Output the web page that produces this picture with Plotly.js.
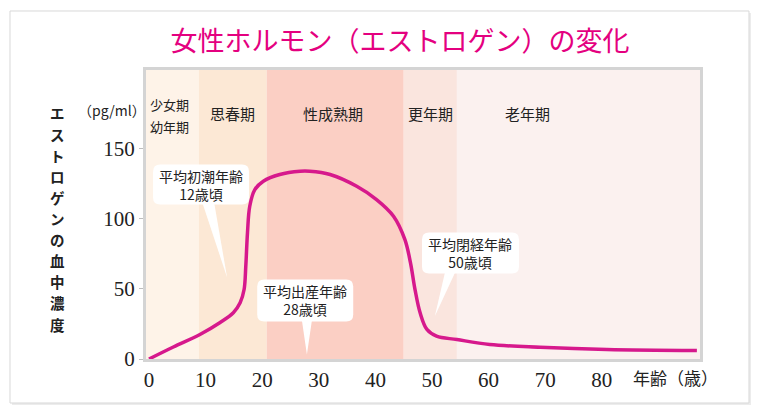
<!DOCTYPE html>
<html>
<head>
<meta charset="utf-8">
<script src="https://cdn.plot.ly/plotly-3.0.1.min.js"></script>
<style>
  html, body { margin: 0; padding: 0; background: #ffffff; }
  #chart { width: 761px; height: 419px; }
</style>
</head>
<body>
<div id="chart"></div>
<script>
// ---- data ----
var ages      = [0, 4.3, 9.0, 12.5, 14.9, 16.1, 16.8, 17.1, 17.4, 17.8, 18.7, 20.2, 23.1, 26.7, 28.4, 32.0, 36.7, 40.2, 43.2, 45.2, 46.2, 47.0, 47.9, 49.1, 50.8, 54.4, 60.2, 69.1, 80.9, 96.8];
var estrogen  = [0, 8.6, 17.5, 25.9, 33, 40.1, 49.6, 66.3, 90.1, 109.1, 121, 127, 131.8, 134.1, 134.1, 131.8, 123.4, 113.9, 102, 85.4, 68.7, 49.6, 33, 21.1, 16.3, 13.9, 10.4, 8.4, 6.8, 6.1];

var stageNames  = ["少女期\n幼年期", "思春期", "性成熟期", "更年期", "老年期"];
var stageStarts = [-0.53, 8.8, 20.8, 45.0, 54.4];
var stageEnds   = [8.8, 20.8, 45.0, 54.4, 97.35];
var stageLabelX = [3.7, 14.7, 32.5, 49.7, 66.8];
var stageColors = ["#fef3e8", "#fce8d5", "#fbcfc4", "#fae5de", "#fbf1ef"];

var xTicks = [0, 10, 20, 30, 40, 50, 60, 70, 80];
var yTicks = [0, 50, 100, 150];

var calloutTexts = ["平均初潮年齢<br>12歳頃", "平均出産年齢<br>28歳頃", "平均閉経年齢<br>50歳頃"];
var yTitleText = "エストロゲンの血中濃度";

// ---- layout helpers ----
var XR = [-0.53, 97.35], YR = [0, 206.4];
var PW = 554, PH = 289;
var xpp = (XR[1] - XR[0]) / PW;  // data per px
var ypp = (YR[1] - YR[0]) / PH;

function roundRect(cx, cy, wpx, hpx, rpx) {
  var x0 = cx - wpx / 2 * xpp, x1 = cx + wpx / 2 * xpp;
  var y0 = cy - hpx / 2 * ypp, y1 = cy + hpx / 2 * ypp;
  var rx = rpx * xpp, ry = rpx * ypp;
  return "M" + (x0 + rx) + "," + y1 +
    " L" + (x1 - rx) + "," + y1 +
    " Q" + x1 + "," + y1 + " " + x1 + "," + (y1 - ry) +
    " L" + x1 + "," + (y0 + ry) +
    " Q" + x1 + "," + y0 + " " + (x1 - rx) + "," + y0 +
    " L" + (x0 + rx) + "," + y0 +
    " Q" + x0 + "," + y0 + " " + x0 + "," + (y0 + ry) +
    " L" + x0 + "," + (y1 - ry) +
    " Q" + x0 + "," + y1 + " " + (x0 + rx) + "," + y1 + " Z";
}

// callout geometry (box centre in data units, size in px, pointer)
var callouts = [
  {cx: 9.2,  cy: 124.6, w: 96, h: 40, base: [9.4, 11.5, 112], tip: [13.8, 58.2]},
  {cx: 27.6, cy: 41.8,  w: 96, h: 42, base: [27.0, 28.8, 28], tip: [27.9, 3.2]},
  {cx: 56.8, cy: 75.7,  w: 97, h: 41, base: [52.3, 54.1, 62], tip: [50.5, 30.6]}
];

var shapes = [];
// card shadow and card
shapes.push({type: "rect", xref: "paper", yref: "paper", x0: -0.2419, x1: 1.0921, y0: -0.1592, y1: 1.197,
  fillcolor: "#ececec", line: {width: 0}, layer: "below"});
shapes.push({type: "rect", xref: "paper", yref: "paper", x0: -0.2455, x1: 1.0884, y0: -0.1522, y1: 1.2042,
  fillcolor: "#ffffff", line: {color: "#d9d9d9", width: 1}, layer: "below"});
// stage bands
for (var i = 0; i < stageNames.length; i++) {
  shapes.push({type: "rect", xref: "x", yref: "paper", x0: stageStarts[i], x1: stageEnds[i], y0: 0, y1: 1,
    fillcolor: stageColors[i], line: {width: 0}, layer: "below"});
}
// callout boxes
callouts.forEach(function (c) {
  shapes.push({type: "path", xref: "x", yref: "y", path: roundRect(c.cx, c.cy, c.w, c.h, 7),
    fillcolor: "#ffffff", line: {width: 0}, layer: "above"});
  shapes.push({type: "path", xref: "x", yref: "y",
    path: "M" + c.base[0] + "," + c.base[2] + " L" + c.tip[0] + "," + c.tip[1] + " L" + c.base[1] + "," + c.base[2] + " Z",
    fillcolor: "#ffffff", line: {width: 0}, layer: "above"});
});

var annotations = [];
function ann(o) { o.showarrow = false; o.xanchor = "center"; o.yanchor = "middle"; annotations.push(o); }
var labelFont = {family: "Noto Sans CJK JP", size: 15, color: "#222"};
// stage labels
stageNames.forEach(function (n, i) {
  if (n.indexOf("\n") >= 0) {
    var parts = n.split("\n");
    ann({x: stageLabelX[i], xref: "x", y: 0.879, yref: "paper", text: parts[0],
      font: {family: "Noto Sans CJK JP", size: 13, color: "#222"}});
    ann({x: stageLabelX[i], xref: "x", y: 0.806, yref: "paper", text: parts[1],
      font: {family: "Noto Sans CJK JP", size: 13, color: "#222"}});
  } else {
    ann({x: stageLabelX[i], xref: "x", y: 0.8478, yref: "paper", text: n, font: labelFont});
  }
});
// callout texts
callouts.forEach(function (c, i) {
  ann({x: c.cx, y: c.cy, xref: "x", yref: "y", text: calloutTexts[i],
    font: {family: "Noto Sans CJK JP", size: 14, color: "#222"}});
});
// unit, axis titles
ann({x: -0.0614, y: 0.8616, xref: "paper", yref: "paper", text: "（pg/ml）",
  font: {family: "Noto Sans CJK JP", size: 14, color: "#222"}});
// vertical (tategaki) y-axis title, one character per line
yTitleText.split("").forEach(function (ch, k) {
  ann({x: -0.1606, y: (359 - (113 + k * 21.1)) / PH, xref: "paper", yref: "paper", text: ch,
    font: {family: "Noto Sans CJK JP", size: 14.5, color: "#222", weight: "bold"}});
});
ann({x: 0.9549, y: -0.0623, xref: "paper", yref: "paper", text: "年齢（歳）",
  font: {family: "Noto Sans CJK JP", size: 17, color: "#222"}});

var trace = {
  x: ages, y: estrogen, type: "scatter", mode: "lines",
  line: {color: "#d6198c", width: 3.5, shape: "spline", smoothing: 1},
  hoverinfo: "skip", cliponaxis: true
};

var layout = {
  width: 761, height: 419,
  margin: {l: 146, r: 61, t: 70, b: 60},
  paper_bgcolor: "#ffffff", plot_bgcolor: "rgba(0,0,0,0)",
  showlegend: false,
  title: {text: "女性ホルモン（エストロゲン）の変化", x: 0.5256, xref: "container", xanchor: "center",
    y: 0.9, yref: "container", yanchor: "middle",
    font: {family: "Noto Sans CJK JP", size: 27, color: "#e4007f"}},
  xaxis: {range: XR, tickvals: xTicks, ticktext: xTicks.map(String), showgrid: false, zeroline: false,
    showline: true, mirror: true, linecolor: "#d4d4d4", linewidth: 3, ticks: "", fixedrange: true,
    tickfont: {family: "Liberation Serif", size: 21, color: "#222"}},
  yaxis: {range: YR, tickvals: yTicks, ticktext: yTicks.map(String), showgrid: false, zeroline: false,
    showline: true, mirror: true, linecolor: "#d4d4d4", linewidth: 3, ticks: "outside", ticklen: 4,
    tickcolor: "#bdbdbd", tickwidth: 1, fixedrange: true,
    tickfont: {family: "Liberation Serif", size: 21, color: "#222"}},
  shapes: shapes,
  annotations: annotations
};

Plotly.newPlot("chart", [trace], layout, {displayModeBar: false, staticPlot: true});
</script>
</body>
</html>
